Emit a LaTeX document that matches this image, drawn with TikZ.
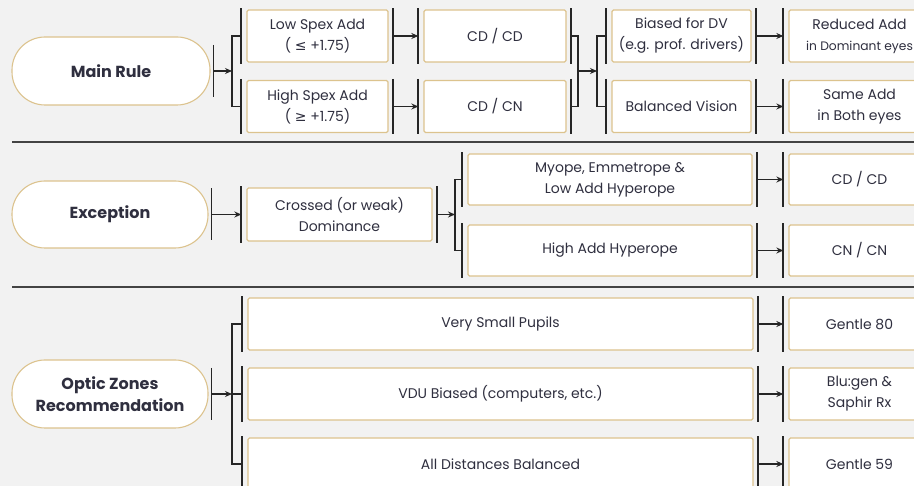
\documentclass[tikz,border=0pt]{standalone}
\usepackage{fontspec}
\setmainfont{Poppins}
\newfontfamily\symf{DejaVu Sans}
\usetikzlibrary{arrows.meta,calc}
\definecolor{bg}{HTML}{F2F2F2}
\definecolor{tanc}{HTML}{DCC38E}
\definecolor{txt}{HTML}{2F2F3F}
\definecolor{barc}{HTML}{262626}
\definecolor{sepc}{HTML}{444444}
\newcommand\lbar[1]{\draw[bar] ([xshift=-5pt,yshift=1pt]#1.north west) -- ([xshift=-5pt,yshift=-1pt]#1.south west);}
\newcommand\rbar[1]{\draw[bar] ([xshift=4pt,yshift=1pt]#1.north east) -- ([xshift=4pt,yshift=-1pt]#1.south east);}
\begin{document}
\begin{tikzpicture}[x=1pt,y=-1pt,
  box/.style={draw=tanc,line width=1.3pt,fill=white,rounded corners=1.5pt,inner sep=0pt,align=center,text=txt,font=\fontsize{14}{21}\selectfont},
  stad/.style={draw=tanc,line width=1.1pt,fill=white,rounded corners=33pt,inner sep=0pt,align=center,text=txt,font=\fontsize{16}{22}\selectfont\bfseries},
  bar/.style={draw=barc,line width=1.8pt},
  link/.style={draw=barc,line width=1.5pt},
  arr/.style={link,-{Stealth[length=7pt,width=6pt]}},
  sepl/.style={draw=sepc,line width=1.8pt}]
\fill[bg] (0,0) rectangle (914,486);
\useasboundingbox (0,0) rectangle (914,486);
\clip (0,0) rectangle (914,486);
% ---------- Row 1: Main Rule ----------
\node[stad,minimum width=198pt,minimum height=68pt] (MR) at (111,71) {Main Rule};
\node[box,minimum width=141pt,minimum height=52pt] (L1) at (317.5,36) {Low Spex Add\\( {\symf ≤} +1.75)};
\node[box,minimum width=141pt,minimum height=52pt] (L2) at (317.5,106.5) {High Spex Add\\( {\symf ≥} +1.75)};
\node[box,minimum width=142pt,minimum height=52pt] (C1) at (495,36) {CD / CD};
\node[box,minimum width=142pt,minimum height=52pt] (C2) at (495,106.5) {CD / CN};
\node[box,minimum width=139pt,minimum height=52pt] (D1) at (681.5,36) {Biased for DV\\(e.g. prof. drivers)};
\node[box,minimum width=139pt,minimum height=52pt] (D2) at (681.5,106.5) {Balanced Vision};
\node[box,minimum width=141pt,minimum height=52pt] (E1) at (859.5,36) {Reduced Add\\{\fontsize{12.3}{21}\selectfont in Dominant eyes}};
\node[box,minimum width=141pt,minimum height=52pt] (E2) at (859.5,106.5) {Same Add\\in Both eyes};
\draw[bar] ([xshift=3pt]MR.east) ++(0,-26) -- ++(0,52);
\foreach \n in {L1,L2,C1,C2,D1,D2,E1,E2} {\lbar{\n}}
\foreach \n in {L1,L2,C1,C2,D1,D2} {\rbar{\n}}
\coordinate (j1) at (232,71);
\coordinate (j2) at (578,71);
\coordinate (j3) at (597,71);
\draw[arr] ([xshift=3pt]MR.east) -- (j1);
\draw[link] ([xshift=-5pt]L1.west) -| (j1) |- ([xshift=-5pt]L2.west);
\draw[arr] ([xshift=4pt]L1.east) -- ([xshift=-5pt]C1.west);
\draw[arr] ([xshift=4pt]L2.east) -- ([xshift=-5pt]C2.west);
\draw[link] ([xshift=4pt]C1.east) -| (j2) |- ([xshift=4pt]C2.east);
\draw[arr] (j2) -- (j3);
\draw[link] ([xshift=-5pt]D1.west) -| (j3) |- ([xshift=-5pt]D2.west);
\draw[arr] ([xshift=4pt]D1.east) -- ([xshift=-5pt]E1.west);
\draw[arr] ([xshift=4pt]D2.east) -- ([xshift=-5pt]E2.west);
% separator
\coordinate (s1a) at (12,142); \coordinate (s1b) at (914,142);
\draw[sepl] (s1a) -- (s1b);
% ---------- Row 2: Exception ----------
\node[stad,minimum width=196pt,minimum height=67pt] (EX) at (110,214.5) {Exception};
\node[box,minimum width=185pt,minimum height=53pt] (X) at (339.5,214.5) {Crossed (or weak)\\Dominance};
\node[box,minimum width=284pt,minimum height=51pt] (M) at (610,179.5) {Myope, Emmetrope \&\\Low Add Hyperope};
\node[box,minimum width=284pt,minimum height=51pt] (H) at (610,250.5) {High Add Hyperope};
\node[box,minimum width=141pt,minimum height=51pt] (F1) at (859.5,179.5) {CD / CD};
\node[box,minimum width=141pt,minimum height=51pt] (F2) at (859.5,250.5) {CN / CN};
\draw[bar] ([xshift=3pt]EX.east) ++(0,-26) -- ++(0,52);
\foreach \n in {X,M,H,F1,F2} {\lbar{\n}}
\foreach \n in {X,M,H} {\rbar{\n}}
\coordinate (j4) at (455,214.5);
\draw[arr] ([xshift=3pt]EX.east) -- ([xshift=-5pt]X.west);
\draw[arr] ([xshift=4pt]X.east) -- (j4);
\draw[link] ([xshift=-5pt]M.west) -| (j4) |- ([xshift=-5pt]H.west);
\draw[arr] ([xshift=4pt]M.east) -- ([xshift=-5pt]F1.west);
\draw[arr] ([xshift=4pt]H.east) -- ([xshift=-5pt]F2.west);
% separator
\coordinate (s2a) at (12,287); \coordinate (s2b) at (914,287);
\draw[sepl] (s2a) -- (s2b);
% ---------- Row 3: Optic Zones ----------
\node[stad,minimum width=196pt,minimum height=68pt] (OZ) at (110,394) {Optic Zones\\Recommendation};
\node[box,minimum width=505pt,minimum height=52pt] (P1) at (500.5,324) {Very Small Pupils};
\node[box,minimum width=505pt,minimum height=52pt] (P2) at (500.5,394) {VDU Biased (computers, etc.)};
\node[box,minimum width=505pt,minimum height=52pt] (P3) at (500.5,464) {All Distances Balanced};
\node[box,minimum width=141pt,minimum height=52pt] (G1) at (859.5,324) {Gentle 80};
\node[box,minimum width=141pt,minimum height=52pt] (G2) at (859.5,394) {Blu:gen \&\\Saphir Rx};
\node[box,minimum width=141pt,minimum height=52pt] (G3) at (859.5,464) {Gentle 59};
\draw[bar] ([xshift=3pt]OZ.east) ++(0,-26) -- ++(0,52);
\foreach \n in {P1,P2,P3,G1,G2,G3} {\lbar{\n}}
\foreach \n in {P1,P2,P3} {\rbar{\n}}
\coordinate (j5) at (232,394);
\draw[arr] ([xshift=3pt]OZ.east) -- (j5);
\draw[link] ([xshift=-5pt]P1.west) -| (j5) |- ([xshift=-5pt]P3.west);
\draw[link] (j5) -- ([xshift=-5pt]P2.west);
\draw[arr] ([xshift=4pt]P1.east) -- ([xshift=-5pt]G1.west);
\draw[arr] ([xshift=4pt]P2.east) -- ([xshift=-5pt]G2.west);
\draw[arr] ([xshift=4pt]P3.east) -- ([xshift=-5pt]G3.west);
\end{tikzpicture}
\end{document}
